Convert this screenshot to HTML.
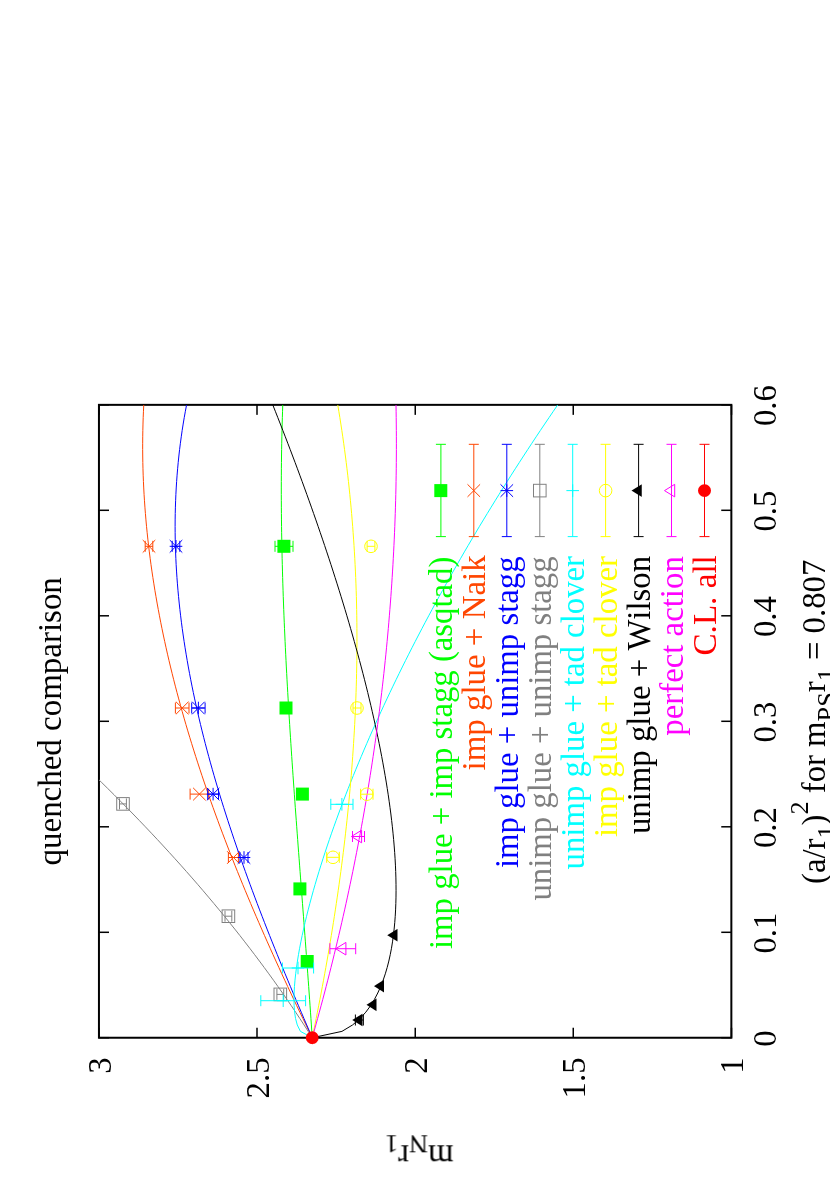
<!DOCTYPE html>
<html><head><meta charset="utf-8"><title>quenched comparison</title>
<style>html,body{margin:0;padding:0;background:#fff}svg{display:block}text{font-family:"Liberation Serif",serif;font-size:32.75px;font-kerning:none}</style></head>
<body>
<svg width="830" height="1186" viewBox="0 0 830 1186">
<rect width="830" height="1186" fill="#fff"/>
<defs><clipPath id="pc"><rect x="148.3" y="99.0" width="632.9" height="632.4"/></clipPath></defs>
<g transform="translate(0,1186) rotate(-90)" opacity="0.999">
<rect x="148.26" y="98.95" width="632.89" height="632.4" fill="none" stroke="#000" stroke-width="2"/>
<path d="M148.3 731.35v-10M148.3 98.95v10M253.7 731.35v-10M253.7 98.95v10M359.2 731.35v-10M359.2 98.95v10M464.7 731.35v-10M464.7 98.95v10M570.2 731.35v-10M570.2 98.95v10M675.7 731.35v-10M675.7 98.95v10M781.2 731.35v-10M781.2 98.95v10M148.26 731.4h10M781.15 731.4h-10M148.26 573.2h10M781.15 573.2h-10M148.26 415.2h10M781.15 415.2h-10M148.26 257.1h10M781.15 257.1h-10M148.26 99.0h10M781.15 99.0h-10" stroke="#000" stroke-width="1.5" fill="none"/>
<g clip-path="url(#pc)" fill="none" stroke-width="1">
<path d="M148.26 312.24 L154.65 311.81 L161.05 311.38 L167.44 310.94 L173.83 310.50 L180.22 310.05 L186.62 309.60 L193.01 309.15 L199.40 308.69 L205.80 308.23 L212.19 307.76 L218.58 307.29 L224.97 306.82 L231.37 306.35 L237.76 305.87 L244.15 305.40 L250.55 304.92 L256.94 304.43 L263.33 303.95 L269.72 303.47 L276.12 302.98 L282.51 302.50 L288.90 302.01 L295.30 301.53 L301.69 301.04 L308.08 300.56 L314.47 300.07 L320.87 299.59 L327.26 299.11 L333.65 298.62 L340.04 298.14 L346.44 297.67 L352.83 297.19 L359.22 296.72 L365.62 296.25 L372.01 295.78 L378.40 295.31 L384.79 294.85 L391.19 294.39 L397.58 293.94 L403.97 293.49 L410.37 293.04 L416.76 292.60 L423.15 292.16 L429.54 291.73 L435.94 291.30 L442.33 290.88 L448.72 290.47 L455.12 290.06 L461.51 289.66 L467.90 289.26 L474.29 288.87 L480.69 288.48 L487.08 288.11 L493.47 287.74 L499.87 287.38 L506.26 287.03 L512.65 286.68 L519.04 286.34 L525.44 286.02 L531.83 285.70 L538.22 285.39 L544.62 285.09 L551.01 284.80 L557.40 284.51 L563.79 284.24 L570.19 283.98 L576.58 283.73 L582.97 283.49 L589.37 283.26 L595.76 283.05 L602.15 282.84 L608.54 282.65 L614.94 282.47 L621.33 282.30 L627.72 282.14 L634.11 282.00 L640.51 281.87 L646.90 281.75 L653.29 281.64 L659.69 281.55 L666.08 281.48 L672.47 281.41 L678.86 281.37 L685.26 281.33 L691.65 281.31 L698.04 281.31 L704.44 281.32 L710.83 281.35 L717.22 281.39 L723.61 281.45 L730.01 281.53 L736.40 281.62 L742.79 281.73 L749.19 281.86 L755.58 282.01 L761.97 282.17 L768.36 282.35 L774.76 282.55 L781.15 282.76" stroke="#00ff00"/>
<path d="M148.26 312.24 L154.65 309.11 L161.05 306.01 L167.44 302.91 L173.83 299.84 L180.22 296.78 L186.62 293.75 L193.01 290.73 L199.40 287.73 L205.80 284.75 L212.19 281.79 L218.58 278.85 L224.97 275.93 L231.37 273.03 L237.76 270.16 L244.15 267.30 L250.55 264.47 L256.94 261.66 L263.33 258.88 L269.72 256.11 L276.12 253.37 L282.51 250.66 L288.90 247.97 L295.30 245.30 L301.69 242.66 L308.08 240.05 L314.47 237.46 L320.87 234.89 L327.26 232.36 L333.65 229.85 L340.04 227.37 L346.44 224.91 L352.83 222.49 L359.22 220.09 L365.62 217.72 L372.01 215.38 L378.40 213.07 L384.79 210.79 L391.19 208.55 L397.58 206.33 L403.97 204.14 L410.37 201.99 L416.76 199.86 L423.15 197.77 L429.54 195.71 L435.94 193.69 L442.33 191.70 L448.72 189.74 L455.12 187.81 L461.51 185.92 L467.90 184.07 L474.29 182.25 L480.69 180.47 L487.08 178.72 L493.47 177.01 L499.87 175.34 L506.26 173.70 L512.65 172.10 L519.04 170.54 L525.44 169.01 L531.83 167.53 L538.22 166.08 L544.62 164.68 L551.01 163.31 L557.40 161.99 L563.79 160.70 L570.19 159.46 L576.58 158.25 L582.97 157.09 L589.37 155.97 L595.76 154.89 L602.15 153.86 L608.54 152.87 L614.94 151.92 L621.33 151.01 L627.72 150.15 L634.11 149.34 L640.51 148.57 L646.90 147.84 L653.29 147.17 L659.69 146.53 L666.08 145.95 L672.47 145.41 L678.86 144.92 L685.26 144.47 L691.65 144.07 L698.04 143.73 L704.44 143.43 L710.83 143.18 L717.22 142.98 L723.61 142.82 L730.01 142.72 L736.40 142.67 L742.79 142.68 L749.19 142.73 L755.58 142.83 L761.97 142.99 L768.36 143.20 L774.76 143.46 L781.15 143.77" stroke="#ff4500"/>
<path d="M148.26 312.24 L154.65 309.47 L161.05 306.72 L167.44 303.97 L173.83 301.24 L180.22 298.52 L186.62 295.81 L193.01 293.12 L199.40 290.44 L205.80 287.77 L212.19 285.12 L218.58 282.49 L224.97 279.87 L231.37 277.27 L237.76 274.69 L244.15 272.13 L250.55 269.59 L256.94 267.06 L263.33 264.56 L269.72 262.08 L276.12 259.62 L282.51 257.18 L288.90 254.77 L295.30 252.38 L301.69 250.01 L308.08 247.67 L314.47 245.35 L320.87 243.06 L327.26 240.80 L333.65 238.56 L340.04 236.35 L346.44 234.17 L352.83 232.02 L359.22 229.90 L365.62 227.81 L372.01 225.75 L378.40 223.72 L384.79 221.73 L391.19 219.76 L397.58 217.83 L403.97 215.94 L410.37 214.08 L416.76 212.25 L423.15 210.46 L429.54 208.71 L435.94 206.99 L442.33 205.31 L448.72 203.67 L455.12 202.07 L461.51 200.51 L467.90 198.99 L474.29 197.51 L480.69 196.07 L487.08 194.67 L493.47 193.32 L499.87 192.01 L506.26 190.74 L512.65 189.52 L519.04 188.34 L525.44 187.21 L531.83 186.13 L538.22 185.09 L544.62 184.10 L551.01 183.16 L557.40 182.26 L563.79 181.42 L570.19 180.63 L576.58 179.88 L582.97 179.19 L589.37 178.55 L595.76 177.96 L602.15 177.43 L608.54 176.95 L614.94 176.52 L621.33 176.15 L627.72 175.84 L634.11 175.58 L640.51 175.38 L646.90 175.23 L653.29 175.15 L659.69 175.12 L666.08 175.15 L672.47 175.24 L678.86 175.40 L685.26 175.61 L691.65 175.88 L698.04 176.22 L704.44 176.62 L710.83 177.09 L717.22 177.62 L723.61 178.21 L730.01 178.87 L736.40 179.59 L742.79 180.39 L749.19 181.25 L755.58 182.17 L761.97 183.17 L768.36 184.23 L774.76 185.37 L781.15 186.57" stroke="#0000ff"/>
<path d="M148.26 312.24 L154.65 308.18 L161.05 304.06 L167.44 299.88 L173.83 295.63 L180.22 291.32 L186.62 286.95 L193.01 282.52 L199.40 278.03 L205.80 273.47 L212.19 268.85 L218.58 264.16 L224.97 259.42 L231.37 254.61 L237.76 249.74 L244.15 244.81 L250.55 239.82 L256.94 234.76 L263.33 229.64 L269.72 224.46 L276.12 219.21 L282.51 213.90 L288.90 208.53 L295.30 203.10 L301.69 197.61 L308.08 192.05 L314.47 186.43 L320.87 180.75 L327.26 175.01 L333.65 169.20 L340.04 163.33 L346.44 157.40 L352.83 151.41 L359.22 145.35 L365.62 139.23 L372.01 133.05 L378.40 126.81 L384.79 120.50 L391.19 114.13 L397.58 107.70 L403.97 101.21 L410.37 94.65 L416.76 88.03 L423.15 81.35 L429.54 74.61 L435.94 67.80 L442.33 60.94 L448.72 54.01 L455.12 47.01 L461.51 39.96 L467.90 32.84 L474.29 25.66 L480.69 18.42 L487.08 11.11 L493.47 3.74 L499.87 -3.69 L506.26 -11.18 L512.65 -18.73 L519.04 -26.35 L525.44 -34.03 L531.83 -41.77 L538.22 -49.58 L544.62 -57.44 L551.01 -65.37 L557.40 -73.36 L563.79 -81.42 L570.19 -89.54 L576.58 -97.71 L582.97 -105.96 L589.37 -114.26 L595.76 -122.63 L602.15 -131.06 L608.54 -139.55 L614.94 -148.10 L621.33 -156.72 L627.72 -165.40 L634.11 -174.14 L640.51 -182.94 L646.90 -191.81 L653.29 -200.73 L659.69 -209.73 L666.08 -218.78 L672.47 -227.89 L678.86 -237.07 L685.26 -246.31 L691.65 -255.62 L698.04 -264.98 L704.44 -274.41 L710.83 -283.90 L717.22 -293.45 L723.61 -303.07 L730.01 -312.75 L736.40 -322.49 L742.79 -332.29 L749.19 -342.15 L755.58 -352.08 L761.97 -362.07 L768.36 -372.12 L774.76 -382.24 L781.15 -392.42" stroke="#808080"/>
<path d="M148.26 312.24 L154.65 300.42 L161.05 297.28 L167.44 295.57 L173.83 294.60 L180.22 294.12 L186.62 293.98 L193.01 294.12 L199.40 294.46 L205.80 294.99 L212.19 295.68 L218.58 296.50 L224.97 297.44 L231.37 298.48 L237.76 299.62 L244.15 300.86 L250.55 302.17 L256.94 303.57 L263.33 305.03 L269.72 306.57 L276.12 308.17 L282.51 309.83 L288.90 311.55 L295.30 313.32 L301.69 315.16 L308.08 317.04 L314.47 318.97 L320.87 320.96 L327.26 322.99 L333.65 325.07 L340.04 327.19 L346.44 329.36 L352.83 331.57 L359.22 333.83 L365.62 336.13 L372.01 338.46 L378.40 340.84 L384.79 343.26 L391.19 345.71 L397.58 348.21 L403.97 350.74 L410.37 353.31 L416.76 355.91 L423.15 358.56 L429.54 361.24 L435.94 363.95 L442.33 366.70 L448.72 369.48 L455.12 372.30 L461.51 375.16 L467.90 378.04 L474.29 380.97 L480.69 383.92 L487.08 386.91 L493.47 389.93 L499.87 392.98 L506.26 396.07 L512.65 399.19 L519.04 402.34 L525.44 405.52 L531.83 408.74 L538.22 411.98 L544.62 415.26 L551.01 418.57 L557.40 421.91 L563.79 425.28 L570.19 428.69 L576.58 432.12 L582.97 435.58 L589.37 439.08 L595.76 442.61 L602.15 446.16 L608.54 449.75 L614.94 453.36 L621.33 457.01 L627.72 460.69 L634.11 464.39 L640.51 468.13 L646.90 471.89 L653.29 475.69 L659.69 479.51 L666.08 483.37 L672.47 487.25 L678.86 491.17 L685.26 495.11 L691.65 499.08 L698.04 503.08 L704.44 507.11 L710.83 511.17 L717.22 515.26 L723.61 519.38 L730.01 523.52 L736.40 527.70 L742.79 531.90 L749.19 536.13 L755.58 540.39 L761.97 544.68 L768.36 549.00 L774.76 553.35 L781.15 557.72" stroke="#00ffff"/>
<path d="M148.26 312.24 L154.65 313.56 L161.05 314.86 L167.44 316.15 L173.83 317.42 L180.22 318.67 L186.62 319.91 L193.01 321.13 L199.40 322.33 L205.80 323.52 L212.19 324.68 L218.58 325.83 L224.97 326.97 L231.37 328.08 L237.76 329.17 L244.15 330.25 L250.55 331.31 L256.94 332.35 L263.33 333.37 L269.72 334.37 L276.12 335.35 L282.51 336.31 L288.90 337.25 L295.30 338.18 L301.69 339.08 L308.08 339.96 L314.47 340.83 L320.87 341.67 L327.26 342.49 L333.65 343.29 L340.04 344.07 L346.44 344.83 L352.83 345.56 L359.22 346.28 L365.62 346.97 L372.01 347.65 L378.40 348.30 L384.79 348.93 L391.19 349.53 L397.58 350.11 L403.97 350.68 L410.37 351.21 L416.76 351.73 L423.15 352.22 L429.54 352.69 L435.94 353.13 L442.33 353.56 L448.72 353.95 L455.12 354.33 L461.51 354.68 L467.90 355.00 L474.29 355.31 L480.69 355.58 L487.08 355.83 L493.47 356.06 L499.87 356.26 L506.26 356.44 L512.65 356.59 L519.04 356.71 L525.44 356.81 L531.83 356.89 L538.22 356.94 L544.62 356.96 L551.01 356.95 L557.40 356.92 L563.79 356.86 L570.19 356.78 L576.58 356.66 L582.97 356.52 L589.37 356.36 L595.76 356.16 L602.15 355.94 L608.54 355.69 L614.94 355.41 L621.33 355.10 L627.72 354.77 L634.11 354.40 L640.51 354.01 L646.90 353.59 L653.29 353.14 L659.69 352.66 L666.08 352.15 L672.47 351.61 L678.86 351.04 L685.26 350.44 L691.65 349.81 L698.04 349.15 L704.44 348.46 L710.83 347.74 L717.22 346.99 L723.61 346.21 L730.01 345.40 L736.40 344.55 L742.79 343.68 L749.19 342.77 L755.58 341.83 L761.97 340.86 L768.36 339.86 L774.76 338.82 L781.15 337.75" stroke="#ffff00"/>
<path d="M148.26 312.24 L154.65 341.94 L161.05 352.57 L167.44 360.01 L173.83 365.79 L180.22 370.50 L186.62 374.43 L193.01 377.78 L199.40 380.66 L205.80 383.15 L212.19 385.31 L218.58 387.19 L224.97 388.83 L231.37 390.24 L237.76 391.47 L244.15 392.51 L250.55 393.40 L256.94 394.13 L263.33 394.74 L269.72 395.22 L276.12 395.58 L282.51 395.84 L288.90 395.99 L295.30 396.05 L301.69 396.01 L308.08 395.90 L314.47 395.70 L320.87 395.43 L327.26 395.08 L333.65 394.66 L340.04 394.18 L346.44 393.63 L352.83 393.02 L359.22 392.36 L365.62 391.63 L372.01 390.86 L378.40 390.03 L384.79 389.15 L391.19 388.22 L397.58 387.24 L403.97 386.22 L410.37 385.15 L416.76 384.04 L423.15 382.88 L429.54 381.69 L435.94 380.46 L442.33 379.19 L448.72 377.88 L455.12 376.53 L461.51 375.15 L467.90 373.73 L474.29 372.28 L480.69 370.80 L487.08 369.28 L493.47 367.74 L499.87 366.16 L506.26 364.55 L512.65 362.91 L519.04 361.24 L525.44 359.54 L531.83 357.82 L538.22 356.06 L544.62 354.28 L551.01 352.48 L557.40 350.64 L563.79 348.79 L570.19 346.90 L576.58 344.99 L582.97 343.06 L589.37 341.10 L595.76 339.12 L602.15 337.12 L608.54 335.09 L614.94 333.04 L621.33 330.97 L627.72 328.88 L634.11 326.76 L640.51 324.63 L646.90 322.47 L653.29 320.29 L659.69 318.09 L666.08 315.88 L672.47 313.64 L678.86 311.38 L685.26 309.10 L691.65 306.81 L698.04 304.49 L704.44 302.16 L710.83 299.81 L717.22 297.44 L723.61 295.05 L730.01 292.64 L736.40 290.22 L742.79 287.78 L749.19 285.32 L755.58 282.84 L761.97 280.35 L768.36 277.84 L774.76 275.32 L781.15 272.78" stroke="#000000"/>
<path d="M148.26 312.24 L154.65 314.04 L161.05 315.83 L167.44 317.59 L173.83 319.34 L180.22 321.06 L186.62 322.77 L193.01 324.46 L199.40 326.12 L205.80 327.77 L212.19 329.40 L218.58 331.01 L224.97 332.60 L231.37 334.17 L237.76 335.72 L244.15 337.25 L250.55 338.76 L256.94 340.25 L263.33 341.72 L269.72 343.17 L276.12 344.61 L282.51 346.02 L288.90 347.41 L295.30 348.79 L301.69 350.14 L308.08 351.47 L314.47 352.79 L320.87 354.09 L327.26 355.36 L333.65 356.62 L340.04 357.86 L346.44 359.07 L352.83 360.27 L359.22 361.45 L365.62 362.61 L372.01 363.75 L378.40 364.87 L384.79 365.97 L391.19 367.05 L397.58 368.11 L403.97 369.15 L410.37 370.17 L416.76 371.18 L423.15 372.16 L429.54 373.12 L435.94 374.07 L442.33 374.99 L448.72 375.90 L455.12 376.78 L461.51 377.65 L467.90 378.49 L474.29 379.32 L480.69 380.13 L487.08 380.91 L493.47 381.68 L499.87 382.43 L506.26 383.16 L512.65 383.87 L519.04 384.56 L525.44 385.23 L531.83 385.88 L538.22 386.51 L544.62 387.12 L551.01 387.71 L557.40 388.29 L563.79 388.84 L570.19 389.37 L576.58 389.89 L582.97 390.38 L589.37 390.86 L595.76 391.31 L602.15 391.75 L608.54 392.16 L614.94 392.56 L621.33 392.94 L627.72 393.29 L634.11 393.63 L640.51 393.95 L646.90 394.25 L653.29 394.53 L659.69 394.79 L666.08 395.03 L672.47 395.25 L678.86 395.45 L685.26 395.63 L691.65 395.79 L698.04 395.94 L704.44 396.06 L710.83 396.16 L717.22 396.25 L723.61 396.31 L730.01 396.35 L736.40 396.38 L742.79 396.39 L749.19 396.37 L755.58 396.34 L761.97 396.28 L768.36 396.21 L774.76 396.12 L781.15 396.01" stroke="#ff00ff"/>
</g>
<g>
<path d="M639.7 275.0V293.0M634.2 275.0H645.2M634.2 293.0H645.2" stroke="#00ff00" stroke-width="1" fill="none"/>
<rect x="633.2" y="277.4" width="13" height="13" fill="#00ff00"/>

<rect x="471.5" y="279.5" width="13" height="13" fill="#00ff00"/>

<rect x="385.4" y="295.9" width="13" height="13" fill="#00ff00"/>

<rect x="290.6" y="293.4" width="13" height="13" fill="#00ff00"/>

<rect x="218.0" y="300.7" width="13" height="13" fill="#00ff00"/>
<path d="M639.7 145.2V152.8M634.2 145.2H645.2M634.2 152.8H645.2" stroke="#ff4500" stroke-width="1" fill="none"/>
<path d="M633.4 142.7L646.0 155.3M633.4 155.3L646.0 142.7" stroke="#ff4500" stroke-width="1" fill="none"/>
<path d="M478.0 175.4V189.0M472.5 175.4H483.5M472.5 189.0H483.5" stroke="#ff4500" stroke-width="1" fill="none"/>
<path d="M471.7 175.9L484.3 188.5M471.7 188.5L484.3 175.9" stroke="#ff4500" stroke-width="1" fill="none"/>
<path d="M391.9 190.1V208.7M386.4 190.1H397.4M386.4 208.7H397.4" stroke="#ff4500" stroke-width="1" fill="none"/>
<path d="M385.6 193.1L398.2 205.7M385.6 205.7L398.2 193.1" stroke="#ff4500" stroke-width="1" fill="none"/>
<path d="M328.5 228.4V238.4M323.0 228.4H334.0M323.0 238.4H334.0" stroke="#ff4500" stroke-width="1" fill="none"/>
<path d="M322.2 227.1L334.8 239.7M322.2 239.7L334.8 227.1" stroke="#ff4500" stroke-width="1" fill="none"/>
<path d="M639.7 172.2V179.8M634.2 172.2H645.2M634.2 179.8H645.2" stroke="#0000ff" stroke-width="1" fill="none"/>
<path d="M633.4 169.7L646.0 182.3M633.4 182.3L646.0 169.7M633.4 176.0H646.0M639.7 169.7V182.3" stroke="#0000ff" stroke-width="1" fill="none"/>
<path d="M478.0 191.7V205.1M472.5 191.7H483.5M472.5 205.1H483.5" stroke="#0000ff" stroke-width="1" fill="none"/>
<path d="M471.7 192.1L484.3 204.7M471.7 204.7L484.3 192.1M471.7 198.4H484.3M478.0 192.1V204.7" stroke="#0000ff" stroke-width="1" fill="none"/>
<path d="M391.9 207.7V218.5M386.4 207.7H397.4M386.4 218.5H397.4" stroke="#0000ff" stroke-width="1" fill="none"/>
<path d="M385.6 206.8L398.2 219.4M385.6 219.4L398.2 206.8M385.6 213.1H398.2M391.9 206.8V219.4" stroke="#0000ff" stroke-width="1" fill="none"/>
<path d="M328.5 240.0V248.0M323.0 240.0H334.0M323.0 248.0H334.0" stroke="#0000ff" stroke-width="1" fill="none"/>
<path d="M322.2 237.7L334.8 250.3M322.2 250.3L334.8 237.7M322.2 244.0H334.8M328.5 237.7V250.3" stroke="#0000ff" stroke-width="1" fill="none"/>
<path d="M382.1 119.5V126.4M376.6 119.5H387.6M376.6 126.4H387.6" stroke="#808080" stroke-width="1" fill="none"/>
<rect x="375.8" y="116.7" width="12.6" height="12.6" fill="none" stroke="#808080" stroke-width="1"/>
<path d="M269.8 225.0V231.8M264.3 225.0H275.3M264.3 231.8H275.3" stroke="#808080" stroke-width="1" fill="none"/>
<rect x="263.5" y="222.1" width="12.6" height="12.6" fill="none" stroke="#808080" stroke-width="1"/>
<path d="M191.6 276.9V283.7M186.1 276.9H197.1M186.1 283.7H197.1" stroke="#808080" stroke-width="1" fill="none"/>
<rect x="185.3" y="274.0" width="12.6" height="12.6" fill="none" stroke="#808080" stroke-width="1"/>
<path d="M381.7 330.8V353.0M376.2 330.8H387.2M376.2 353.0H387.2" stroke="#00ffff" stroke-width="1" fill="none"/>
<path d="M375.4 341.9H388.0M381.7 335.6V348.2" stroke="#00ffff" stroke-width="1" fill="none"/>
<path d="M218.0 282.4V313.6M212.5 282.4H223.5M212.5 313.6H223.5" stroke="#00ffff" stroke-width="1" fill="none"/>
<path d="M211.7 298.0H224.3M218.0 291.7V304.3" stroke="#00ffff" stroke-width="1" fill="none"/>
<path d="M185.3 260.8V305.6M179.8 260.8H190.8M179.8 305.6H190.8" stroke="#00ffff" stroke-width="1" fill="none"/>
<path d="M179.0 283.2H191.6M185.3 276.9V289.5" stroke="#00ffff" stroke-width="1" fill="none"/>
<path d="M639.7 367.1V374.9M634.2 367.1H645.2M634.2 374.9H645.2" stroke="#ffff00" stroke-width="1" fill="none"/>
<circle cx="639.7" cy="371.0" r="6.3" fill="none" stroke="#ffff00" stroke-width="1"/>
<path d="M478.0 353.0V361.0M472.5 353.0H483.5M472.5 361.0H483.5" stroke="#ffff00" stroke-width="1" fill="none"/>
<circle cx="478.0" cy="357.0" r="6.3" fill="none" stroke="#ffff00" stroke-width="1"/>
<path d="M391.8 360.6V373.0M386.3 360.6H397.3M386.3 373.0H397.3" stroke="#ffff00" stroke-width="1" fill="none"/>
<circle cx="391.8" cy="366.8" r="6.3" fill="none" stroke="#ffff00" stroke-width="1"/>
<path d="M328.7 326.7V339.3M323.2 326.7H334.2M323.2 339.3H334.2" stroke="#ffff00" stroke-width="1" fill="none"/>
<circle cx="328.7" cy="333.0" r="6.3" fill="none" stroke="#ffff00" stroke-width="1"/>
<path d="M166.0 355.4V363.4M160.5 355.4H171.5M160.5 363.4H171.5" stroke="#000000" stroke-width="1" fill="none"/>
<polygon points="166.0,352.3 159.7,362.5 172.3,362.5" fill="#000000"/>

<polygon points="181.2,366.4 174.9,376.6 187.5,376.6" fill="#000000"/>

<polygon points="199.9,373.9 193.6,384.1 206.2,384.1" fill="#000000"/>

<polygon points="250.8,387.2 244.5,397.4 257.1,397.4" fill="#000000"/>
<path d="M349.5 352.5V364.5M344.0 352.5H355.0M344.0 364.5H355.0" stroke="#ff00ff" stroke-width="1" fill="none"/>
<polygon points="349.5,351.4 343.2,361.6 355.8,361.6" fill="none" stroke="#ff00ff" stroke-width="1"/>
<path d="M237.3 329.9V355.7M231.8 329.9H242.8M231.8 355.7H242.8" stroke="#ff00ff" stroke-width="1" fill="none"/>
<polygon points="237.3,335.7 231.0,345.9 243.6,345.9" fill="none" stroke="#ff00ff" stroke-width="1"/>

<circle cx="148.3" cy="312.2" r="6.4" fill="#ff0000"/>
</g>
<text x="147.5" y="776" text-anchor="middle">0</text>
<text x="252.9" y="776" text-anchor="middle">0.1</text>
<text x="358.4" y="776" text-anchor="middle">0.2</text>
<text x="463.9" y="776" text-anchor="middle">0.3</text>
<text x="569.4" y="776" text-anchor="middle">0.4</text>
<text x="674.9" y="776" text-anchor="middle">0.5</text>
<text x="780.4" y="776" text-anchor="middle">0.6</text>
<text x="128.5" y="742.9" text-anchor="end">1</text>
<text x="128.5" y="584.8" text-anchor="end">1.5</text>
<text x="128.5" y="426.7" text-anchor="end">2</text>
<text x="128.5" y="268.6" text-anchor="end">2.5</text>
<text x="128.5" y="110.5" text-anchor="end">3</text>
<text x="464.7" y="61.1" text-anchor="middle" textLength="288.3" lengthAdjust="spacingAndGlyphs">quenched comparison</text>
<text x="302.0" y="824.5">(a/r<tspan font-size="26.2" dy="10.2">1</tspan><tspan dy="-10.2">)</tspan><tspan font-size="26.2" dy="-17">2</tspan><tspan dy="17"> for m</tspan><tspan font-size="26.2" dy="10.2">PS</tspan><tspan dy="-10.2">r</tspan><tspan font-size="26.2" dy="10.2">1</tspan><tspan dy="-10.2"> = 0.807</tspan></text>
<text transform="translate(40.7,453.5) rotate(-90)">m<tspan font-size="26.2" dy="10.2">N</tspan><tspan dy="-10.2">r</tspan><tspan font-size="26.2" dy="10.2">1</tspan></text>
<text x="629.4" y="452.1" text-anchor="end" fill="#00ff00" textLength="392.4" lengthAdjust="spacingAndGlyphs">imp glue + imp stagg (asqtad)</text>
<path d="M649.4 440.9H741.7M649.4 435.9v10M741.7 435.9v10" stroke="#00ff00" stroke-width="1" fill="none"/>
<rect x="688.9" y="434.3" width="13" height="13" fill="#00ff00"/>
<text x="630.6" y="485.0" text-anchor="end" fill="#ff4500" textLength="215.0" lengthAdjust="spacingAndGlyphs">imp glue + Naik</text>
<path d="M649.4 473.8H741.7M649.4 468.8v10M741.7 468.8v10" stroke="#ff4500" stroke-width="1" fill="none"/>
<path d="M689.1 467.5L701.7 480.1M689.1 480.1L701.7 467.5" stroke="#ff4500" stroke-width="1" fill="none"/>
<text x="629.6" y="518.0" text-anchor="end" fill="#0000ff" textLength="311.7" lengthAdjust="spacingAndGlyphs">imp glue + unimp stagg</text>
<path d="M649.4 506.8H741.7M649.4 501.8v10M741.7 501.8v10" stroke="#0000ff" stroke-width="1" fill="none"/>
<path d="M689.1 500.5L701.7 513.1M689.1 513.1L701.7 500.5M689.1 506.8H701.7M695.4 500.5V513.1" stroke="#0000ff" stroke-width="1" fill="none"/>
<text x="629.6" y="551.0" text-anchor="end" fill="#808080" textLength="344.2" lengthAdjust="spacingAndGlyphs">unimp glue + unimp stagg</text>
<path d="M649.4 539.8H741.7M649.4 534.8v10M741.7 534.8v10" stroke="#808080" stroke-width="1" fill="none"/>
<rect x="689.1" y="533.5" width="12.6" height="12.6" fill="none" stroke="#808080" stroke-width="1"/>
<text x="630.0" y="583.9" text-anchor="end" fill="#00ffff" textLength="313.4" lengthAdjust="spacingAndGlyphs">unimp glue + tad clover</text>
<path d="M649.4 572.7H741.7M649.4 567.7v10M741.7 567.7v10" stroke="#00ffff" stroke-width="1" fill="none"/>
<path d="M689.1 572.7H701.7M695.4 566.4V579.0" stroke="#00ffff" stroke-width="1" fill="none"/>
<text x="630.0" y="616.9" text-anchor="end" fill="#ffff00" textLength="281.1" lengthAdjust="spacingAndGlyphs">imp glue + tad clover</text>
<path d="M649.4 605.6H741.7M649.4 600.6v10M741.7 600.6v10" stroke="#ffff00" stroke-width="1" fill="none"/>
<circle cx="695.4" cy="605.6" r="6.3" fill="none" stroke="#ffff00" stroke-width="1"/>
<text x="630.2" y="649.8" text-anchor="end" fill="#000000" textLength="278.3" lengthAdjust="spacingAndGlyphs">unimp glue + Wilson</text>
<path d="M649.4 638.6H741.7M649.4 633.6v10M741.7 633.6v10" stroke="#000000" stroke-width="1" fill="none"/>
<polygon points="695.4,631.5 689.1,641.8 701.7,641.8" fill="#000000"/>
<text x="629.8" y="682.8" text-anchor="end" fill="#ff00ff" textLength="179.5" lengthAdjust="spacingAndGlyphs">perfect action</text>
<path d="M649.4 671.5H741.7M649.4 666.5v10M741.7 666.5v10" stroke="#ff00ff" stroke-width="1" fill="none"/>
<polygon points="695.4,664.5 689.1,674.7 701.7,674.7" fill="none" stroke="#ff00ff" stroke-width="1"/>
<text x="630.8" y="715.7" text-anchor="end" fill="#ff0000" textLength="100.3" lengthAdjust="spacingAndGlyphs">C.L. all</text>
<path d="M649.4 704.5H741.7M649.4 699.5v10M741.7 699.5v10" stroke="#ff0000" stroke-width="1" fill="none"/>
<circle cx="695.4" cy="704.5" r="6.4" fill="#ff0000"/>
</g></svg></body></html>
